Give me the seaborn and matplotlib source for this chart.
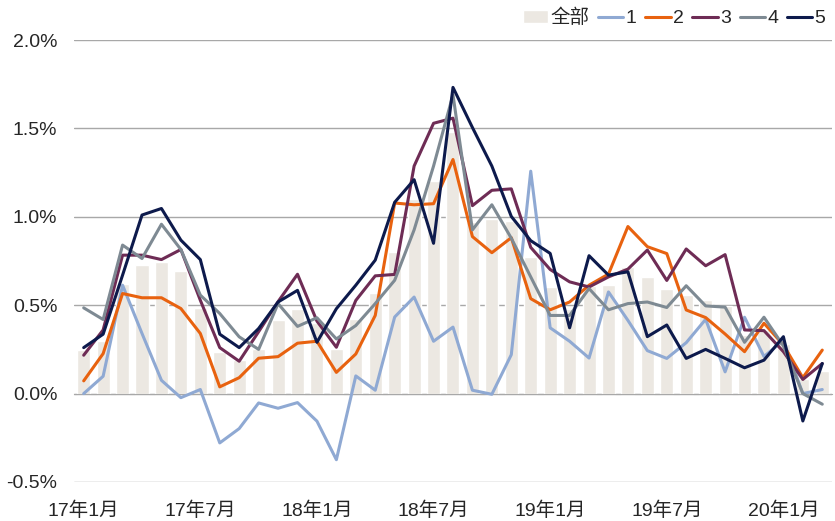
import numpy as np
import matplotlib
matplotlib.use("Agg")
import matplotlib.pyplot as plt
import seaborn as sns
from matplotlib.ticker import FuncFormatter

# monthly data, 17年1月 .. 20年3月 (%)
month_idx = np.arange(39)
tick_pos = [0, 6, 12, 18, 24, 30, 36]
tick_labels = ['17年1月', '17年7月', '18年1月', '18年7月', '19年1月', '19年7月', '20年1月']

total = [0.245, 0.30, 0.62, 0.726, 0.745, 0.694, 0.485, 0.236, 0.19, 0.255,
         0.414, 0.48, 0.40, 0.25, 0.42, 0.57, 0.80, 1.10, 1.205, 1.48,
         0.97, 0.99, 0.975, 0.77, 0.605, 0.48, 0.607, 0.615, 0.716, 0.66,
         0.592, 0.56, 0.528, 0.498, 0.33, 0.36, 0.28, 0.08, 0.13]

s1 = [0.0, 0.098, 0.613, 0.34, 0.075, -0.023, 0.023, -0.279, -0.198, -0.053,
      -0.083, -0.051, -0.156, -0.374, 0.10, 0.019, 0.433, 0.546, 0.296, 0.376,
      0.019, -0.004, 0.22, 1.258, 0.372, 0.296, 0.201, 0.575, 0.414, 0.243,
      0.199, 0.288, 0.42, 0.123, 0.432, 0.21, 0.30, 0.0, 0.023]
s2 = [0.072, 0.226, 0.566, 0.542, 0.542, 0.481, 0.34, 0.038, 0.09, 0.20,
      0.209, 0.285, 0.296, 0.12, 0.224, 0.442, 1.078, 1.068, 1.074, 1.324,
      0.888, 0.797, 0.882, 0.537, 0.474, 0.518, 0.613, 0.676, 0.945, 0.831,
      0.792, 0.473, 0.43, 0.337, 0.237, 0.398, 0.275, 0.09, 0.246]
s3 = [0.217, 0.36, 0.783, 0.783, 0.758, 0.815, 0.528, 0.26, 0.183, 0.35,
      0.52, 0.675, 0.41, 0.262, 0.527, 0.666, 0.674, 1.287, 1.529, 1.558,
      1.063, 1.15, 1.158, 0.827, 0.702, 0.632, 0.603, 0.66, 0.704, 0.812,
      0.64, 0.818, 0.723, 0.786, 0.36, 0.356, 0.237, 0.08, 0.17]
s4 = [0.485, 0.419, 0.84, 0.764, 0.958, 0.815, 0.557, 0.453, 0.321, 0.25,
      0.509, 0.38, 0.429, 0.309, 0.385, 0.509, 0.641, 0.926, 1.287, 1.69,
      0.926, 1.068, 0.879, 0.66, 0.442, 0.442, 0.594, 0.474, 0.509, 0.518,
      0.487, 0.61, 0.496, 0.489, 0.29, 0.432, 0.27, 0.0, -0.06]
s5 = [0.26, 0.336, 0.67, 1.01, 1.047, 0.868, 0.758, 0.336, 0.26, 0.368,
      0.518, 0.584, 0.29, 0.48, 0.613, 0.755, 1.082, 1.21, 0.85, 1.732,
      1.505, 1.287, 1.002, 0.865, 0.793, 0.372, 0.78, 0.67, 0.689, 0.322,
      0.388, 0.199, 0.25, 0.199, 0.146, 0.189, 0.322, -0.155, 0.17]

series_names = ['1', '2', '3', '4', '5']
series_vals = [s1, s2, s3, s4, s5]
series_colors = ['#8FA9D3', '#E8620F', '#6E2C55', '#7E8A93', '#0D1A4C']
bar_color = '#ECE8E2'
grid_c = '#A8A8A8'

sns.set_style('white')
plt.rcParams['font.family'] = ['Liberation Sans', 'Noto Sans CJK SC']

fig = plt.figure(figsize=(8.35, 5.21), dpi=100)
ax = fig.add_axes([0.0886, 0.0749, 0.9078, 0.8483])

sns.barplot(x=month_idx, y=total, color=bar_color, saturation=1, width=0.67,
            errorbar=None, label='全部', ax=ax, zorder=1)
for name, vals, c in zip(series_names, series_vals, series_colors):
    sns.lineplot(x=month_idx, y=vals, color=c, linewidth=2.2, label=name,
                 ax=ax, zorder=3)

if ax.get_legend() is not None:
    ax.get_legend().remove()

ax.set_xlim(-0.5, 38.5)
ax.set_ylim(-0.5, 2.0)
ax.set_yticks(np.arange(-0.5, 2.01, 0.5))
ax.yaxis.set_major_formatter(FuncFormatter(lambda v, _: f'{v:.1f}%'))
ax.tick_params(axis='y', length=0, pad=12, labelsize=14)
ax.yaxis.grid(True, color=grid_c, linewidth=1)
ax.set_axisbelow(True)

for s in ['top', 'right', 'left']:
    ax.spines[s].set_visible(False)
ax.spines['bottom'].set_position(('data', 0))
ax.spines['bottom'].set_color(grid_c)
ax.spines['bottom'].set_zorder(2)
ax.set_xticks(np.arange(-0.5, 39, 6))
ax.set_xticks(np.arange(-0.5, 39, 1), minor=True)
ax.set_xticklabels([])
ax.tick_params(axis='x', which='major', direction='inout', length=10,
               width=1, color=grid_c)
ax.tick_params(axis='x', which='minor', direction='out', length=4,
               width=1, color=grid_c)
ax.set_xlabel('')
ax.set_ylabel('')

sec = ax.secondary_xaxis('bottom')
sec.set_xticks(tick_pos, labels=tick_labels)
sec.tick_params(length=0, pad=14, labelsize=14)
sec.spines['bottom'].set_visible(False)

# legend in one row, top right
h, l = ax.get_legend_handles_labels()
order = [l.index(k) for k in ['全部'] + series_names]
fig.legend([h[i] for i in order], [l[i] for i in order], loc='center right',
           bbox_to_anchor=(0.998, 0.965), ncol=6, frameon=False, fontsize=14,
           handlelength=1.3, handletextpad=0.12, columnspacing=0.45,
           borderaxespad=0)

fig.savefig('out.png', dpi=100)
